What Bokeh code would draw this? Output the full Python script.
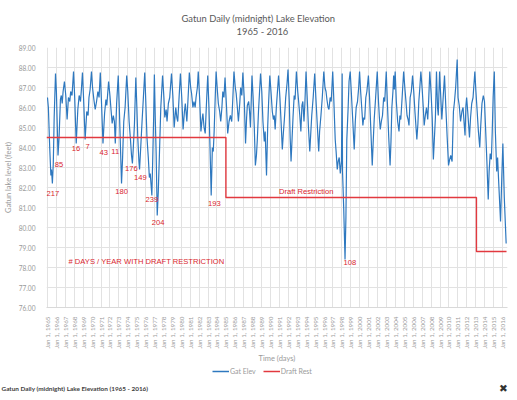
import math
from bokeh.plotting import figure
from bokeh.layouts import column
from bokeh.models import FixedTicker, PrintfTickFormatter, Legend, LegendItem, Title
from bokeh.core.properties import value
from bokeh.embed import file_html
from bokeh.resources import INLINE

# ---------------- data ----------------
# Gatun lake elevation, time in decimal years, level in feet
elev_time = [
    1965.00, 1965.10, 1965.25, 1965.38, 1965.45, 1965.55, 1965.65, 1965.75, 1965.90,
    1966.00, 1966.18, 1966.30, 1966.45, 1966.55, 1966.65, 1966.75, 1966.90,
    1967.05, 1967.20, 1967.35, 1967.50, 1967.60, 1967.75, 1967.92,
    1968.05, 1968.22, 1968.40, 1968.55, 1968.70, 1968.80, 1968.92,
    1969.05, 1969.22, 1969.40, 1969.55, 1969.65, 1969.78, 1969.93,
    1970.05, 1970.20, 1970.35, 1970.50, 1970.65, 1970.78, 1970.92,
    1971.05, 1971.22, 1971.40, 1971.55, 1971.65, 1971.85,
    1972.00, 1972.12, 1972.25, 1972.38, 1972.50, 1972.60, 1972.75, 1972.93,
    1973.05, 1973.18, 1973.30, 1973.42, 1973.55, 1973.70, 1973.88,
    1974.00, 1974.15, 1974.30, 1974.42, 1974.52, 1974.62, 1974.75, 1974.90,
    1975.02, 1975.12, 1975.25, 1975.32, 1975.45, 1975.60, 1975.75, 1975.90,
    1976.02, 1976.15, 1976.30, 1976.42, 1976.52, 1976.60, 1976.70, 1976.80, 1976.90, 1976.98,
    1977.08, 1977.18, 1977.30, 1977.42, 1977.55, 1977.70, 1977.90,
    1978.05, 1978.15, 1978.30, 1978.40, 1978.55, 1978.70, 1978.90,
    1979.05, 1979.20, 1979.38, 1979.50, 1979.60, 1979.75, 1979.90,
    1980.05, 1980.20, 1980.35, 1980.45, 1980.62, 1980.75, 1980.90,
    1981.05, 1981.15, 1981.30, 1981.42, 1981.55, 1981.65, 1981.80, 1981.90,
    1982.05, 1982.20, 1982.33, 1982.42, 1982.55, 1982.68, 1982.80, 1982.96,
    1983.10, 1983.20, 1983.35, 1983.48, 1983.58, 1983.68, 1983.80, 1983.90,
    1984.05, 1984.15, 1984.30, 1984.42, 1984.55, 1984.65, 1984.78, 1984.90,
    1985.05, 1985.20, 1985.35, 1985.50, 1985.65, 1985.78, 1985.90,
    1986.05, 1986.15, 1986.28, 1986.40, 1986.55, 1986.65, 1986.78, 1986.90,
    1987.05, 1987.20, 1987.32, 1987.40, 1987.55, 1987.65, 1987.75, 1987.92,
    1988.05, 1988.18, 1988.30, 1988.42, 1988.52, 1988.65, 1988.88,
    1989.02, 1989.15, 1989.30, 1989.40, 1989.55, 1989.68, 1989.78, 1989.92,
    1990.05, 1990.20, 1990.32, 1990.42, 1990.52, 1990.65, 1990.90,
    1991.05, 1991.18, 1991.32, 1991.45, 1991.55, 1991.70, 1991.85, 1991.96,
    1992.10, 1992.20, 1992.30, 1992.42, 1992.52, 1992.65, 1992.75, 1992.90,
    1993.05, 1993.15, 1993.28, 1993.40, 1993.52, 1993.62, 1993.75, 1993.85, 1993.98,
    1994.10, 1994.25, 1994.40, 1994.52, 1994.62, 1994.78, 1994.95,
    1995.08, 1995.22, 1995.40, 1995.50, 1995.65, 1995.80, 1995.97,
    1996.10, 1996.22, 1996.32, 1996.45, 1996.55, 1996.68, 1996.80, 1996.97,
    1997.10, 1997.25, 1997.35, 1997.48, 1997.58, 1997.70, 1997.82, 1997.95, 1998.03,
    1998.07, 1998.20, 1998.35, 1998.45, 1998.55, 1998.70, 1998.80, 1998.93,
    1999.05, 1999.20, 1999.38, 1999.50, 1999.60, 1999.75, 1999.88, 1999.98,
    2000.10, 2000.22, 2000.35, 2000.45, 2000.55, 2000.68, 2000.80, 2000.97,
    2001.10, 2001.25, 2001.40, 2001.50, 2001.62, 2001.78, 2001.96,
    2002.10, 2002.20, 2002.30, 2002.42, 2002.55, 2002.68, 2002.80, 2002.97,
    2003.10, 2003.25, 2003.40, 2003.50, 2003.60, 2003.72, 2003.80, 2003.88, 2003.97,
    2004.10, 2004.25, 2004.40, 2004.50, 2004.60, 2004.75, 2004.92,
    2005.05, 2005.18, 2005.30, 2005.42, 2005.52, 2005.65, 2005.78, 2005.92,
    2006.05, 2006.20, 2006.40, 2006.52, 2006.62, 2006.72, 2006.85,
    2007.00, 2007.12, 2007.22, 2007.35, 2007.48, 2007.62, 2007.72, 2007.85,
    2008.00, 2008.12, 2008.25, 2008.35, 2008.48, 2008.60, 2008.72, 2008.80, 2008.95,
    2009.05, 2009.20, 2009.35, 2009.50, 2009.65, 2009.80, 2009.95,
    2010.08, 2010.20, 2010.35, 2010.50, 2010.62, 2010.75, 2010.92,
    2011.02, 2011.15, 2011.30, 2011.45, 2011.58, 2011.70, 2011.80, 2011.90, 2011.98,
    2012.10, 2012.30, 2012.42, 2012.55, 2012.70, 2012.90,
    2013.02, 2013.12, 2013.30, 2013.45, 2013.55, 2013.70, 2013.85, 2013.98,
    2014.10, 2014.25, 2014.40, 2014.50, 2014.62, 2014.75, 2014.85, 2014.95,
    2015.08, 2015.20, 2015.35, 2015.45, 2015.58, 2015.78, 2015.92,
    2016.04, 2016.20, 2016.41,
]
elev_value = [
    86.5, 86.0, 84.0, 82.6, 82.9, 82.2, 83.2, 85.5, 87.7,
    86.8, 83.6, 84.5, 86.4, 86.6, 86.2, 86.8, 87.3,
    86.6, 85.4, 86.5, 86.3, 86.8, 86.6, 87.8,
    86.5, 84.2, 85.9, 86.6, 86.3, 86.9, 87.75,
    86.4, 84.4, 85.8, 85.6, 86.5, 86.9, 87.8,
    87.0, 86.4, 85.9, 86.3, 86.8, 86.5, 87.75,
    86.3, 84.2, 85.7, 86.4, 86.1, 87.3,
    86.6, 85.9, 85.2, 85.6, 85.3, 84.2, 86.2, 87.6,
    86.0, 84.0, 82.2, 83.5, 85.3, 86.0, 87.6,
    86.8, 85.3, 84.4, 83.6, 83.2, 84.0, 85.2, 87.5,
    86.0, 84.5, 83.3, 82.9, 84.0, 85.3, 86.5, 87.75,
    86.3, 84.5, 83.5, 82.5, 82.7, 82.2, 81.6, 83.5, 85.5, 87.65,
    85.5, 83.7, 80.6, 81.8, 83.7, 86.0, 87.6,
    86.5, 85.5, 85.9, 85.3, 86.2, 86.5, 87.7,
    86.6, 85.0, 86.0, 85.5, 85.3, 86.5, 87.7,
    86.5, 84.9, 85.8, 86.2, 85.3, 86.4, 87.75,
    87.0, 86.7, 86.0, 86.3, 86.0, 86.5, 87.0, 87.8,
    86.5, 84.8, 85.4, 85.7, 85.0, 84.7, 86.0, 87.6,
    86.0, 84.3, 81.6, 84.0, 83.8, 84.8, 86.5, 87.8,
    86.8, 86.2, 85.8, 85.3, 86.0, 86.8, 86.5, 87.5,
    86.2, 84.7, 85.3, 85.6, 85.3, 86.5, 87.8,
    87.0, 86.7, 86.0, 85.3, 86.2, 87.0, 86.6, 87.75,
    86.5, 84.2, 85.5, 86.1, 86.3, 85.8, 85.0, 87.6,
    86.5, 85.0, 83.1, 83.6, 84.4, 85.8, 87.7,
    86.8, 85.3, 84.3, 84.8, 82.6, 85.0, 86.2, 87.6,
    86.8, 85.8, 85.4, 85.6, 84.9, 86.0, 87.6,
    86.5, 85.3, 83.9, 84.8, 85.4, 86.5, 87.2, 87.9,
    86.3, 84.5, 83.3, 84.5, 85.5, 86.6, 86.4, 87.8,
    86.8, 86.3, 85.6, 84.8, 86.1, 86.3, 85.3, 86.2, 87.8,
    86.6, 85.0, 83.8, 84.8, 85.6, 86.5, 87.7,
    86.5, 85.3, 83.8, 84.8, 85.6, 86.5, 87.8,
    87.0, 86.8, 86.4, 86.0, 85.9, 86.5, 86.3, 87.8,
    86.3, 84.4, 83.8, 82.9, 83.3, 83.5, 82.7, 83.3, 87.7,
    82.8, 81.0, 78.4, 80.5, 84.4, 86.0, 87.3, 87.8,
    86.8, 85.5, 83.9, 85.3, 86.0, 86.3, 87.0, 87.8,
    86.8, 86.0, 85.1, 85.5, 85.4, 86.5, 86.8, 87.6,
    86.5, 84.8, 83.1, 84.2, 85.4, 86.5, 87.8,
    86.3, 85.5, 84.9, 85.3, 85.6, 86.5, 86.3, 87.8,
    86.2, 84.5, 83.1, 84.3, 86.0, 86.8, 87.6, 86.9, 87.8,
    86.3, 85.3, 84.8, 85.6, 85.4, 86.5, 87.8,
    87.0, 86.3, 85.6, 85.4, 85.1, 86.5, 86.8, 87.6,
    86.8, 85.7, 84.4, 85.2, 86.3, 86.9, 87.8,
    86.9, 86.0, 85.1, 85.6, 86.0, 85.4, 86.3, 87.8,
    86.7, 85.5, 83.4, 84.3, 85.5, 87.8, 86.0, 85.6, 87.8,
    86.8, 85.4, 86.5, 87.6, 86.0, 84.5, 83.1,
    83.4, 83.6, 83.3, 85.8, 86.3, 87.0, 88.4,
    86.5, 86.1, 85.3, 85.8, 86.0, 85.2, 84.6, 86.1, 86.5,
    85.8, 84.5, 85.5, 86.2, 86.5, 87.8,
    86.8, 86.1, 84.8, 84.0, 85.0, 86.2, 86.6, 86.3,
    85.0, 83.3, 81.4, 82.8, 83.7, 83.4, 84.8, 86.5,
    87.8, 84.8, 82.8, 83.5, 82.2, 80.3, 82.5,
    84.2, 81.5, 79.2,
]

# draft restriction level (step changes)
draft_time = [1964.89, 1985.0, 2013.08, 2016.45]
draft_level = [84.5, 81.5, 78.8, 78.8]

# annotations: number of days per year with draft restriction
ann_text = ["217", "85", "16", "7", "43", "11", "180", "176", "149", "239", "204", "193", "108"]
ann_x = [1965.6, 1966.3, 1968.2, 1969.5, 1971.3, 1972.6, 1973.3, 1974.4, 1975.4, 1976.7, 1977.4, 1983.7, 1998.9]
ann_y = [81.71, 83.16, 83.93, 84.03, 83.73, 83.78, 81.78, 82.95, 82.5, 81.41, 80.26, 81.21, 78.27]

tick_years = list(range(1965, 2017))
tick_labels = ["Jan 1, %d" % y for y in tick_years]
y_ticks = list(range(76, 90))

title_lines = ["Gatun Daily (midnight) Lake Elevation", "1965 - 2016"]
caption = "Gatun Daily (midnight) Lake Elevation (1965 - 2016)"
legend_labels = ["Gat Elev", "Draft Rest"]

BLUE = "#2e78bf"
RED = "#e2393f"
TXT_RED = "#d9262e"
GRID = "#e2e2e2"
TICK = "#9a9a9a"
W = 509

# ---------------- main chart ----------------
p = figure(width=W, height=366, output_backend="svg", toolbar_location=None,
           title=None, x_range=(1964.89, 2016.56), y_range=(76, 89),
           min_border_left=42, min_border_right=2, min_border_top=47,
           min_border_bottom=59, frame_align=False)
p.outline_line_color = None

p.line(elev_time, elev_value, line_color=BLUE, line_width=1.2)
p.step(draft_time, draft_level, mode="after", line_color=RED, line_width=1.4)

p.text(x=ann_x, y=ann_y, text=ann_text, text_color=TXT_RED,
       text_font=value("Liberation Sans"), text_font_size="7.6px",
       text_align="center", text_baseline="middle")
p.text(x=[1976.1], y=[78.3], text=["# DAYS / YEAR WITH DRAFT RESTRICTION"],
       text_color=TXT_RED, text_font=value("Liberation Sans"), text_font_size="7.6px",
       text_align="center", text_baseline="middle")
p.text(x=[1994.0], y=[81.78], text=["Draft Restriction"],
       text_color=TXT_RED, text_font=value("Liberation Sans"), text_font_size="7.6px",
       text_align="center", text_baseline="middle")

p.xaxis.ticker = FixedTicker(ticks=tick_years)
p.xaxis.major_label_overrides = {y: l for y, l in zip(tick_years, tick_labels)}
p.xaxis.major_label_orientation = math.pi / 2
p.xaxis.major_label_text_font = "Lato"
p.xaxis.major_label_text_font_size = "6.3px"
p.xaxis.major_label_text_color = TICK
p.xaxis.major_label_standoff = 3
p.xaxis.axis_label = "Time (days)"
p.xaxis.axis_label_text_font = "Lato"
p.xaxis.axis_label_text_font_style = "normal"
p.xaxis.axis_label_text_font_size = "7.5px"
p.xaxis.axis_label_text_color = TICK
p.xaxis.axis_label_standoff = 2
p.xaxis.axis_line_color = "#d9d9d9"

p.yaxis.ticker = FixedTicker(ticks=y_ticks)
p.yaxis.formatter = PrintfTickFormatter(format="%.2f")
p.yaxis.major_label_text_font = "Lato"
p.yaxis.major_label_text_font_size = "6.6px"
p.yaxis.major_label_text_color = TICK
p.yaxis.major_label_standoff = 5
p.yaxis.axis_label = "Gatun lake level (feet)"
p.yaxis.axis_label_text_font = "Lato"
p.yaxis.axis_label_text_font_style = "normal"
p.yaxis.axis_label_text_font_size = "7.5px"
p.yaxis.axis_label_text_color = TICK
p.yaxis.axis_label_standoff = 3
p.yaxis.axis_line_color = None

for ax in (p.xaxis[0], p.yaxis[0]):
    ax.major_tick_line_color = None
    ax.minor_tick_line_color = None

p.xgrid.ticker = FixedTicker(ticks=tick_years)
p.ygrid.ticker = FixedTicker(ticks=y_ticks)
p.xgrid.grid_line_color = GRID
p.ygrid.grid_line_color = GRID

# titles above the frame (nearest first; the blank one is a spacer)
p.add_layout(Title(text=" ", text_font_size="8px", standoff=0), "above")
p.add_layout(Title(text=title_lines[1], align="left", offset=190, standoff=0,
                   text_font="Lato", text_font_size="9.4px", text_font_style="normal",
                   text_color="#595959"), "above")
p.add_layout(Title(text=title_lines[0], align="left", offset=135, standoff=0,
                   text_font="Lato", text_font_size="9.4px", text_font_style="normal",
                   text_color="#595959"), "above")

# ---------------- legend + caption strip ----------------
bottom = figure(width=W, height=26, output_backend="svg", toolbar_location=None,
                x_range=(0, W), y_range=(0, 26),
                x_axis_location=None, y_axis_location=None,
                min_border=0, min_border_left=0, min_border_right=0,
                min_border_top=0, min_border_bottom=0, frame_align=False)
bottom.grid.visible = False
bottom.outline_line_color = None

lg_blue = bottom.line(x=[-20, -10], y=[-20, -20], line_color=BLUE, line_width=1.5)
lg_red = bottom.line(x=[-20, -10], y=[-20, -20], line_color=RED, line_width=1.5)
legend = Legend(items=[LegendItem(label=legend_labels[0], renderers=[lg_blue]),
                       LegendItem(label=legend_labels[1], renderers=[lg_red])],
                orientation="horizontal", location=(212, 17),
                border_line_color=None, background_fill_alpha=0,
                label_text_font="Lato", label_text_font_size="7px",
                label_text_color=TICK, glyph_width=17, glyph_height=8,
                label_standoff=1, spacing=7, padding=0, margin=0,
                label_height=8)
bottom.add_layout(legend)
bottom.text(x=[1], y=[4], text=[caption], text_font=value("Lato"),
            text_font_style="bold", text_font_size="6.4px", text_color="#404040",
            text_align="left", text_baseline="middle")
bottom.text(x=[503], y=[5], text=["\u2716"], text_font=value("DejaVu Sans"),
            text_font_size="10.5px", text_color="#333333",
            text_align="center", text_baseline="middle")

layout = column(p, bottom, spacing=0)
open("out.html", "w").write(file_html(layout, INLINE))
